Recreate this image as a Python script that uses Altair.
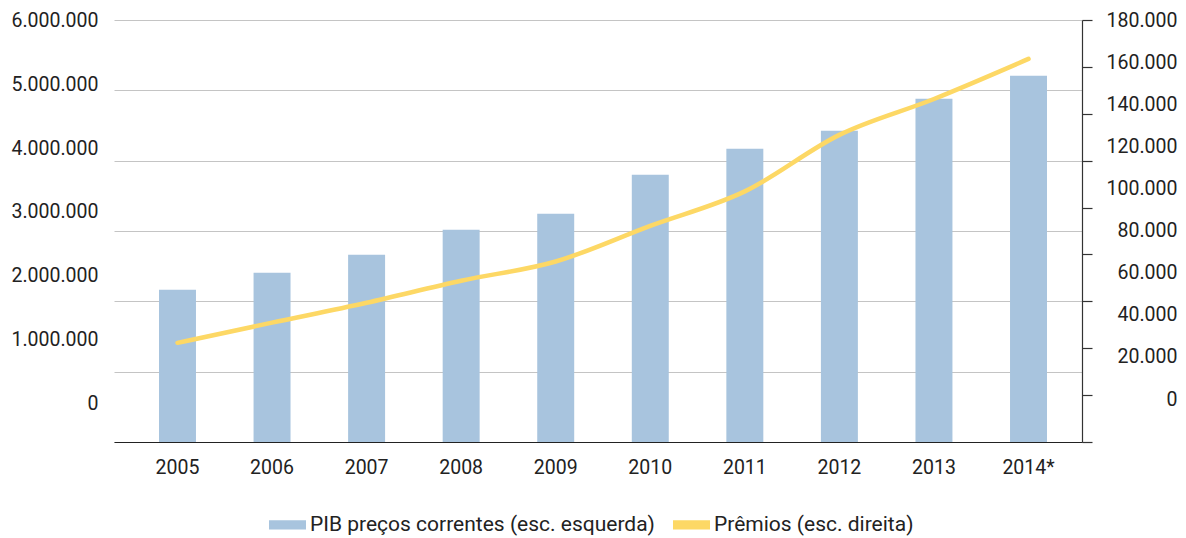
import altair as alt
import pandas as pd

anos = ["2005", "2006", "2007", "2008", "2009", "2010", "2011", "2012", "2013", "2014*"]
pib = [2166000, 2408000, 2663000, 3018000, 3246000, 3800000, 4169000, 4425000, 4879000, 5206000]
premios = [42300, 50900, 59400, 68800, 77000, 92200, 106900, 131000, 146300, 163400]

serie_pib = "PIB preços correntes (esc. esquerda)"
serie_prem = "Prêmios (esc. direita)"
azul = "#a8c4de"
amarelo = "#fdd865"
left_ticks = [0, 1000000, 2000000, 3000000, 4000000, 5000000, 6000000]
right_ticks = [0, 20000, 40000, 60000, 80000, 100000, 120000, 140000, 160000, 180000]

df = pd.DataFrame({"ano": anos, "pib": pib, "premios": premios, "serie": serie_pib})

FONT = "Roboto"
FS = 19.5
dots = "replace(format(datum.value, ','), /,/g, '.')"

x = alt.X("ano:N", sort=anos, title=None,
          scale=alt.Scale(paddingInner=0.609, paddingOuter=0.423, align=0.5625),
          axis=alt.Axis(labelAngle=0, ticks=False, domainColor="#222222", domainWidth=1.2,
                        labelPadding=16, labelFont=FONT, labelFontSize=FS, labelColor="#222222",
                        zindex=1))

bars = alt.Chart(df).mark_bar(color=azul).encode(
    x=x,
    y=alt.Y("pib:Q", title=None,
            scale=alt.Scale(domain=[0, 6000000], nice=False),
            axis=alt.Axis(values=left_ticks, labelExpr=dots, grid=True, gridColor="#c4c4c4",
                          gridWidth=1, domain=False, ticks=False, labelPadding=16,
                          labelFont=FONT, labelFontSize=FS, labelColor="#222222",
                          labelOffset={"expr": "-38.7 + 6.56*datum.value/1000000"})),
    color=alt.Color("serie:N", title=None,
                    scale=alt.Scale(domain=[serie_pib, serie_prem], range=[azul, amarelo]),
                    legend=alt.Legend(orient="none", legendX=155, legendY=486, direction="horizontal",
                                      columns=2, symbolType="M-1,-0.25H1V0.25H-1Z", symbolSize=1369,
                                      symbolStrokeWidth=0, symbolOpacity=1, labelFont=FONT,
                                      labelFontSize=21, labelColor="#222222", labelLimit=0,
                                      labelOffset=4, columnPadding=18, padding=0)),
)

line = alt.Chart(df).mark_line(color=amarelo, strokeWidth=4.5, interpolate="monotone",
                               strokeCap="round").encode(
    x=x,
    y=alt.Y("premios:Q", title=None,
            scale=alt.Scale(domain=[0, 180000], nice=False),
            axis=alt.Axis(orient="right", values=right_ticks, labelExpr=dots, grid=False,
                          domain=True, domainColor="#333333", domainWidth=1.2,
                          ticks=True, tickColor="#333333", tickSize=10, tickWidth=1.2,
                          labelAlign="right", labelPadding=85,
                          labelFont=FONT, labelFontSize=FS, labelColor="#222222",
                          labelOffset={"expr": "-43 + 4.85*datum.value/20000"})),
)

chart = alt.layer(bars, line).resolve_scale(y="independent").properties(
    width=968, height=422,
    autosize=alt.AutoSizeParams(type="none"),
    padding={"left": 106, "top": 12, "right": 96, "bottom": 94},
).configure_view(stroke=None)

chart.save("out.html", embed_options={"renderer": "svg", "actions": False})
